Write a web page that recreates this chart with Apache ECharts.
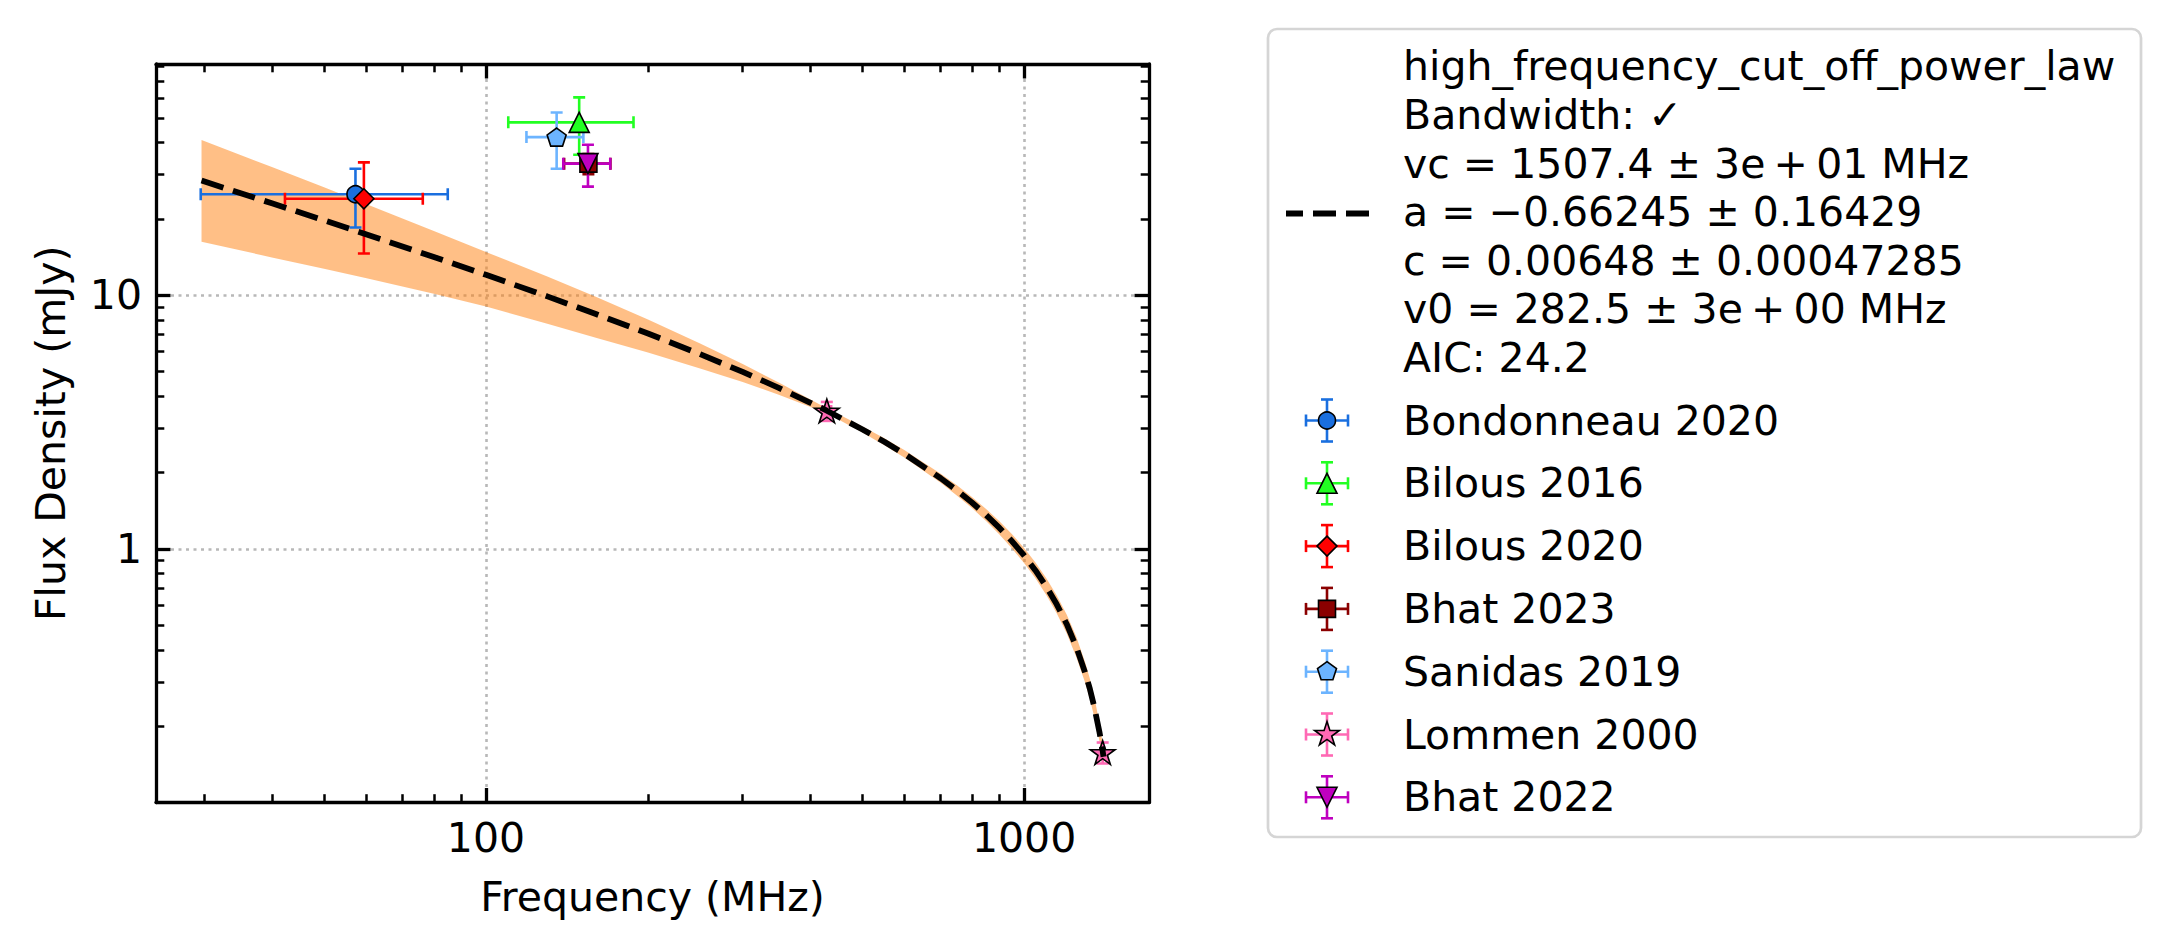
<!DOCTYPE html>
<html>
<head>
<meta charset="utf-8">
<script src="https://cdn.jsdelivr.net/npm/echarts@6/dist/echarts.min.js"></script>
<style>
  html, body { margin: 0; padding: 0; background: #fff; }
  #main { width: 2172px; height: 948px; }
</style>
</head>
<body>
<div id="main"></div>
<script>
// measured sources (MHz, mJy)
const sourceNames = ['Bondonneau 2020', 'Bilous 2016', 'Bilous 2020', 'Bhat 2023', 'Sanidas 2019', 'Lommen 2000', 'Bhat 2022'];
const sourceFreq = [[57.2], [149.0], [59.3], [155.0], [135.3], [430, 1400], [154.7]];
const sourceFreqErr = [[27.7], [39.0], [17.0], [15.3], [16.4], [8, 10], [15.5]];
const sourceFlux = [[25.0], [48.0], [24.0], [33.0], [42.0], [3.5, 0.158], [33.0]];
const sourceFluxErr = [[6.5], [12.2], [9.4], [3.0], [10.5], [0.3, 0.015], [6.2]];

// fitted model curve and its uncertainty band
const fitFreq = [29.6, 40, 50, 60, 80, 100, 130, 160, 200, 250, 300, 350, 400, 430, 500, 550, 600, 700, 750, 800, 850, 900, 950, 1000, 1050, 1100, 1150, 1200, 1250, 1300, 1325, 1350, 1380, 1390, 1400, 1405];
const fitFlux = [28.31, 23.03, 19.73, 17.37, 14.15, 12.04, 9.90, 8.44, 7.07, 5.86, 4.99, 4.32, 3.78, 3.51, 2.967, 2.647, 2.368, 1.902, 1.705, 1.526, 1.362, 1.212, 1.073, 0.944, 0.824, 0.712, 0.606, 0.507, 0.413, 0.324, 0.282, 0.240, 0.1915, 0.1756, 0.160, 0.152];
const fitUpper = [40.92, 32.01, 26.62, 22.85, 17.90, 14.81, 11.85, 9.87, 8.02, 6.45, 5.36, 4.53, 3.89, 3.59, 3.05, 2.734, 2.451, 1.982, 1.785, 1.605, 1.440, 1.287, 1.145, 1.011, 0.885, 0.768, 0.657, 0.552, 0.453, 0.356, 0.309, 0.263, 0.2076, 0.189, 0.1713, 0.163];
const fitLower = [16.25, 14.10, 12.71, 11.66, 10.13, 9.03, 7.72, 6.80, 5.95, 5.15, 4.55, 4.06, 3.64, 3.43, 2.886, 2.563, 2.288, 1.825, 1.628, 1.451, 1.289, 1.142, 1.006, 0.881, 0.767, 0.660, 0.559, 0.466, 0.377, 0.296, 0.257, 0.219, 0.1767, 0.1631, 0.1492, 0.142];

const fitLabel = ['high_frequency_cut_off_power_law', 'Bandwidth: ✓', 'vc = 1507.4 ± 3e\u2009+\u200901 MHz', 'a = −0.66245 ± 0.16429', 'c = 0.00648 ± 0.00047285', 'v0 = 282.5 ± 3e\u2009+\u200900 MHz', 'AIC: 24.2'];

// axis ticks
const xMajorTicks = [100, 1000];
const xMinorTicks = [30, 40, 50, 60, 70, 80, 90, 200, 300, 400, 500, 600, 700, 800, 900];
const yMajorTicks = [1, 10];
const yMinorTicks = [0.2, 0.3, 0.4, 0.5, 0.6, 0.7, 0.8, 0.9, 2, 3, 4, 5, 6, 7, 8, 9, 20, 30, 40, 50, 60, 70, 80];
const xRange = [24.36, 1707];
const yRange = [0.1004, 81.5];

// styles
const colors = ['#1a6fdf', '#22ff22', '#ff0000', '#8b0000', '#6cb4ff', '#ff69b4', '#bf00bf'];
const starUnit = [[0, -1], [0.2245, -0.309], [0.9511, -0.309], [0.3633, 0.118], [0.5878, 0.809], [0, 0.382], [-0.5878, 0.809], [-0.3633, 0.118], [-0.9511, -0.309], [-0.2245, -0.309]];
const pentUnit = [[0, -1], [0.9511, -0.309], [0.5878, 0.809], [-0.5878, 0.809], [-0.9511, -0.309]];
const triUp = [[0, -1], [1, 1], [-1, 1]];
const triDown = [[-1, -1], [1, -1], [0, 1]];
const diamondUnit = [[0, -1], [1, 0], [0, 1], [-1, 0]];
const squareUnit = [[-1, -1], [1, -1], [1, 1], [-1, 1]];
const shapes = [null, triUp, diamondUnit, squareUnit, pentUnit, starUnit, triDown];
const shapeScale = [8.5, 10, 10, 8.5, 10, 13, 10];

function toPath(pts) {
  return 'path://M' + pts.map(p => p[0] + ',' + p[1]).join('L') + 'Z';
}
function symbolSize(pts, s) {
  const xs = pts.map(p => p[0]), ys = pts.map(p => p[1]);
  return [(Math.max(...xs) - Math.min(...xs)) * s, (Math.max(...ys) - Math.min(...ys)) * s];
}

const FONT = 'DejaVu Sans';
const FS = 41;
const CAP = 6;

function errorBars(color) {
  return function (params, api) {
    const x = api.value(0), y = api.value(1), xe = api.value(2), ye = api.value(3);
    const l = api.coord([x - xe, y]), r = api.coord([x + xe, y]);
    const t = api.coord([x, y + ye]), b = api.coord([x, y - ye]);
    const seg = (x1, y1, x2, y2) => ({
      type: 'line', shape: { x1, y1, x2, y2 }, style: { stroke: color, lineWidth: 2.6 }
    });
    return {
      type: 'group',
      children: [
        seg(l[0], l[1], r[0], r[1]),
        seg(t[0], t[1], b[0], b[1]),
        seg(l[0], l[1] - CAP, l[0], l[1] + CAP),
        seg(r[0], r[1] - CAP, r[0], r[1] + CAP),
        seg(t[0] - CAP, t[1], t[0] + CAP, t[1]),
        seg(b[0] - CAP, b[1], b[0] + CAP, b[1])
      ]
    };
  };
}

const series = [];

series.push({
  type: 'custom',
  name: 'band',
  clip: true,
  data: fitFreq.map((f, i) => [f, fitLower[i], fitUpper[i]]),
  encode: { x: 0, y: 1 },
  renderItem: function (params, api) {
    if (params.dataIndex !== 0) return null;
    const pts = [];
    fitFreq.forEach((f, i) => pts.push(api.coord([f, fitUpper[i]])));
    for (let i = fitFreq.length - 1; i >= 0; i--) pts.push(api.coord([fitFreq[i], fitLower[i]]));
    return { type: 'polygon', shape: { points: pts }, style: { fill: 'rgba(255,127,14,0.5)' } };
  }
});

series.push({
  type: 'line',
  name: 'fit',
  data: fitFreq.map((f, i) => [f, fitFlux[i]]),
  showSymbol: false,
  symbol: 'none',
  lineStyle: { color: '#000', width: 5.8, type: [23, 10] }
});

sourceNames.forEach((name, k) => {
  const rows = sourceFreq[k].map((f, i) => [f, sourceFlux[k][i], sourceFreqErr[k][i], sourceFluxErr[k][i]]);
  series.push({
    type: 'custom',
    name: name + ' err',
    clip: true,
    data: rows,
    encode: { x: 0, y: 1 },
    renderItem: errorBars(colors[k])
  });
  const sym = shapes[k] ? toPath(shapes[k]) : 'circle';
  const size = shapes[k] ? symbolSize(shapes[k], shapeScale[k]) : 17;
  series.push({
    type: 'scatter',
    name: name,
    data: rows.map(r => [r[0], r[1]]),
    symbol: sym,
    symbolSize: size,
    itemStyle: { color: colors[k], borderColor: '#000', borderWidth: 1.6, opacity: 1 }
  });
});

// legend drawn as graphics
const LX = 1268, LY = 29, LW = 873, LH = 808;
const legendEls = [];
legendEls.push({
  type: 'rect', shape: { x: LX, y: LY, width: LW, height: LH, r: 9 },
  style: { fill: '#fff', stroke: '#d5d5d5', lineWidth: 2.7 }, z: 100
});
legendEls.push({
  type: 'line', shape: { x1: 1286, y1: 213.5, x2: 1369, y2: 213.5 },
  style: { stroke: '#000', lineWidth: 5.8, lineDash: [23, 10], lineDashOffset: 6 }, z: 101
});
legendEls.push({
  type: 'text', x: 1403, y: 42, z: 101,
  style: { text: fitLabel.join('\n'), font: FS + 'px "' + FONT + '"', fill: '#000', lineHeight: 48.6, verticalAlign: 'top' }
});
sourceNames.forEach((name, k) => {
  const cy = 420.5 + 62.8 * k, cx = 1327;
  const st = { stroke: colors[k], lineWidth: 2.6 };
  const ln = (x1, y1, x2, y2) => ({ type: 'line', shape: { x1, y1, x2, y2 }, style: Object.assign({}, st), z: 101 });
  legendEls.push(ln(cx - 21, cy, cx + 21, cy));
  legendEls.push(ln(cx, cy - 21, cx, cy + 21));
  legendEls.push(ln(cx - 21, cy - CAP, cx - 21, cy + CAP));
  legendEls.push(ln(cx + 21, cy - CAP, cx + 21, cy + CAP));
  legendEls.push(ln(cx - CAP, cy - 21, cx + CAP, cy - 21));
  legendEls.push(ln(cx - CAP, cy + 21, cx + CAP, cy + 21));
  if (shapes[k]) {
    legendEls.push({
      type: 'polygon', z: 102,
      shape: { points: shapes[k].map(p => [cx + p[0] * shapeScale[k], cy + p[1] * shapeScale[k]]) },
      style: { fill: colors[k], stroke: '#000', lineWidth: 1.6 }
    });
  } else {
    legendEls.push({
      type: 'circle', z: 102, shape: { cx: cx, cy: cy, r: 8.5 },
      style: { fill: colors[k], stroke: '#000', lineWidth: 1.6 }
    });
  }
  legendEls.push({
    type: 'text', x: 1403, y: cy, z: 101,
    style: { text: name, font: FS + 'px "' + FONT + '"', fill: '#000', verticalAlign: 'middle' }
  });
});

const labelStyle = { fontFamily: FONT, fontSize: FS, color: '#000' };
const gridLine = { show: true, lineStyle: { color: '#b8b8b8', width: 2.6, type: [3, 4.5] } };

function logAxis(kind, position, ticks, major, withLabels) {
  const range = kind === 'x' ? xRange : yRange;
  return {
    type: 'log',
    logBase: 10,
    position: position,
    min: range[0],
    max: range[1],
    axisLine: { show: major, onZero: false, lineStyle: { color: '#000', width: 3.3 } },
    axisTick: {
      show: true, inside: true, customValues: ticks,
      length: major ? 14.5 : 8.3,
      lineStyle: { color: '#000', width: major ? 3.3 : 2.5 }
    },
    axisLabel: withLabels
      ? Object.assign({ show: true, customValues: ticks, margin: kind === 'x' ? 15 : 14, formatter: v => String(v) }, labelStyle)
      : { show: false },
    splitLine: withLabels ? gridLine : { show: false },
    minorTick: { show: false },
    minorSplitLine: { show: false }
  };
}

const xAxes = [
  Object.assign(logAxis('x', 'bottom', xMajorTicks, true, true), {
    name: 'Frequency (MHz)', nameLocation: 'middle', nameGap: 74,
    nameTextStyle: { fontFamily: FONT, fontSize: FS, color: '#000' }
  }),
  logAxis('x', 'bottom', xMinorTicks, false, false),
  logAxis('x', 'top', xMajorTicks, true, false),
  logAxis('x', 'top', xMinorTicks, false, false)
];
const yAxes = [
  Object.assign(logAxis('y', 'left', yMajorTicks, true, true), {
    name: 'Flux Density (mJy)', nameLocation: 'middle', nameGap: 85,
    nameTextStyle: { fontFamily: FONT, fontSize: FS, color: '#000' }
  }),
  logAxis('y', 'left', yMinorTicks, false, false),
  logAxis('y', 'right', yMajorTicks, true, false),
  logAxis('y', 'right', yMinorTicks, false, false)
];

const chart = echarts.init(document.getElementById('main'), null, { renderer: 'svg', width: 2172, height: 948 });
chart.setOption({
  backgroundColor: '#fff',
  animation: false,
  textStyle: { fontFamily: FONT },
  grid: { left: 156, top: 64, width: 993, height: 738.5, outerBoundsMode: 'none', containLabel: false },
  xAxis: xAxes,
  yAxis: yAxes,
  series: series,
  graphic: { elements: legendEls }
});
</script>
</body>
</html>
